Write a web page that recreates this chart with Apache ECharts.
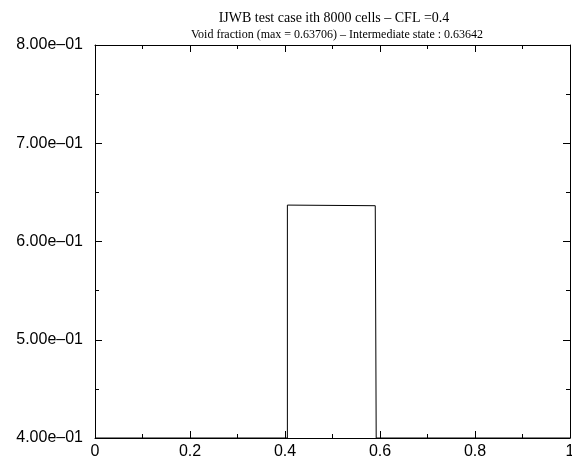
<!DOCTYPE html>
<html><head><meta charset="utf-8">
<script src="https://cdn.jsdelivr.net/npm/echarts@6/dist/echarts.min.js"></script>
<style>html,body{margin:0;padding:0;background:#fff}#c{width:572px;height:466px}</style>
</head><body><div id="c"></div>
<script>
const titleText = 'IJWB test case ith 8000 cells \u2013 CFL =0.4';
const subtitleText = 'Void fraction (max = 0.63706) \u2013 Intermediate state : 0.63642';
const xValues = [0, 0.405, 0.405, 0.407, 0.590, 0.592, 0.592, 1];
const yValues = [0.4, 0.4, 0.63706, 0.63642, 0.63642, 0.63706, 0.4, 0.4];
const yTickLabels = {'0.4':'4.00e\u201301','0.5':'5.00e\u201301','0.6':'6.00e\u201301','0.7':'7.00e\u201301','0.8':'8.00e\u201301'};
const xTickLabels = {'0':'0','0.2':'0.2','0.4':'0.4','0.6':'0.6','0.8':'0.8','1':'1'};

const chart = echarts.init(document.getElementById('c'), null, {renderer:'canvas'});
function axisCommon(){
  return {
    axisLine:{show:true,onZero:false,lineStyle:{color:'#000',width:1}},
    axisTick:{show:true,inside:true,length:7,lineStyle:{color:'#000',width:1}},
    minorTick:{show:true,splitNumber:2,length:4,lineStyle:{color:'#000',width:1}},
    splitLine:{show:false}
  };
}
chart.setOption({
  animation:false,
  backgroundColor:'#fff',
  title:[
    {text:titleText,left:329,top:6,textAlign:'center',textStyle:{fontFamily:'Liberation Serif',fontSize:14,fontWeight:'normal',color:'#000'}},
    {text:subtitleText,left:332,top:24,textAlign:'center',textStyle:{fontFamily:'Liberation Serif',fontSize:12,fontWeight:'normal',color:'#000'}}
  ],
  grid:{left:95,right:2,top:45,bottom:28,containLabel:false,outerBoundsMode:'none'},
  xAxis:[
    Object.assign({type:'value',min:0,max:1,interval:0.2,position:'bottom',
      axisLabel:{margin:6,fontFamily:'Liberation Sans',fontSize:16,color:'#000',
        formatter:v=>xTickLabels[String(Math.round(v*10)/10)]||''}},axisCommon()),
    Object.assign({type:'value',min:0,max:1,interval:0.2,position:'top',axisLabel:{show:false}},axisCommon())
  ],
  yAxis:[
    Object.assign({type:'value',min:0.4,max:0.8,interval:0.1,position:'left',
      axisLabel:{margin:12,fontFamily:'Liberation Sans',fontSize:16,color:'#000',
        formatter:v=>yTickLabels[String(Math.round(v*10)/10)]||''}},axisCommon()),
    Object.assign({type:'value',min:0.4,max:0.8,interval:0.1,position:'right',axisLabel:{show:false}},axisCommon())
  ],
  series:[{
    type:'line',
    data:xValues.map((x,i)=>[x,yValues[i]]),
    showSymbol:false,
    lineStyle:{color:'#000',width:1},
    clip:false
  }]
});
</script></body></html>
